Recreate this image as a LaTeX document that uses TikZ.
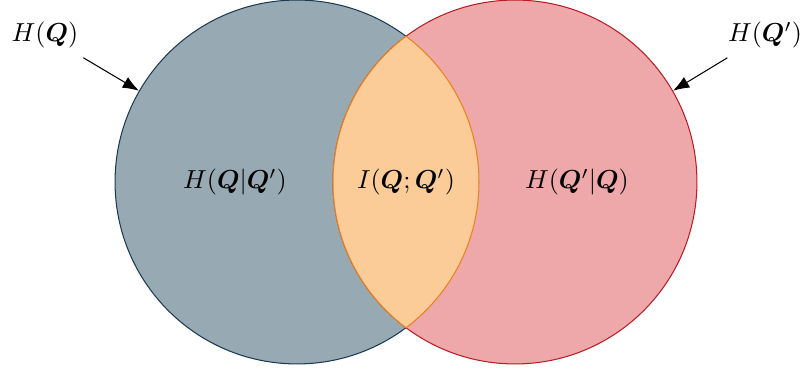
\documentclass[tikz,border=0pt]{standalone}
\usepackage{amsmath}
\usepackage{bm}
\usetikzlibrary{arrows.meta}

\definecolor{setA}{HTML}{97AAB4}
\definecolor{setAline}{HTML}{1B3A52}
\definecolor{setB}{HTML}{EFA8AA}
\definecolor{setBline}{HTML}{B81D24}
\definecolor{lens}{HTML}{FBCC98}
\definecolor{lensline}{HTML}{E8821E}

\begin{document}
\begin{tikzpicture}[
        x=0.0135cm, y=0.0135cm,
        >={Latex[length=2.2mm]},
        setnode/.style={circle, minimum size=4.914cm, inner sep=0pt},
        label/.style={inner sep=2pt, font=\normalsize},
        arrow/.style={->, shorten <=3pt}
    ]
    \useasboundingbox (0,0) rectangle (804,375);

    \node[setnode, fill=setA, draw=setAline] (hq) at (297,193) {};
    \node[setnode, fill=setB, draw=setBline] (hqp) at (515,193) {};

    % mutual information lens
    \begin{scope}
        \clip (hq.center) circle (182);
        \fill[lens] (hqp.center) circle (182);
        \draw[lensline] (hqp.center) circle (182);
    \end{scope}
    \begin{scope}
        \clip (hqp.center) circle (182);
        \draw[lensline] (hq.center) circle (182);
    \end{scope}

    \node[label] (cond) at (235,193) {$H(\bm{Q}|\bm{Q}')$};
    \node[label] (mi) at (406,193) {$I(\bm{Q};\bm{Q}')$};
    \node[label] (condp) at (577,193) {$H(\bm{Q}'|\bm{Q})$};

    \node[label] (lq) at (45,340) {$H(\bm{Q})$};
    \node[label] (lqp) at (765,340) {$H(\bm{Q}')$};

    \draw[arrow] (lq) -- (hq.150);
    \draw[arrow] (lqp) -- (hqp.30);

\end{tikzpicture}
\end{document}
